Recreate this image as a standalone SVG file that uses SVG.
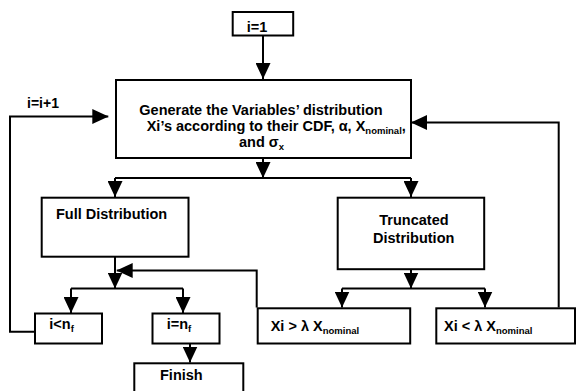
<svg xmlns="http://www.w3.org/2000/svg" width="576" height="391" viewBox="0 0 576 391">
<style>
.box{fill:#fff;stroke:#000;stroke-width:2}
.ln{fill:none;stroke:#000;stroke-width:2}
.ar{fill:none;stroke:#000;stroke-width:2;marker-end:url(#ah)}
text{font-family:"Liberation Sans",Arial,sans-serif;font-weight:bold;font-size:14.5px;fill:#000}
.sub{font-size:9.5px}
</style>
<defs>
<marker id="ah" viewBox="0 0 16 15" refX="16" refY="7.5" markerWidth="16" markerHeight="15" markerUnits="userSpaceOnUse" orient="auto">
<path d="M0,0 L16,7.5 L0,15 z" fill="#000"/>
</marker>
</defs>
<rect width="576" height="391" fill="#fff"/>
<g id="connectors">
<path class="ar" d="M263,36 L263,79"/>
<path class="ar" d="M263,159 L263,178"/>
<path class="ln" d="M115,178 L411,178"/>
<path class="ar" d="M115,178 L115,197"/>
<path class="ar" d="M411,178 L411,197"/>
<path class="ar" d="M115,257 L115,288.5"/>
<path class="ar" d="M256.7,307.5 L256.7,270.5 L116.7,270.5"/>
<path class="ln" d="M71,288.5 L183,288.5"/>
<path class="ar" d="M71,288.5 L71,313"/>
<path class="ar" d="M183,288.5 L183,313"/>
<path class="ar" d="M190,344 L190,362.5"/>
<path class="ar" d="M35,331.7 L10,331.7 L10,116.5 L108.3,116.5"/>
<path class="ar" d="M411,270 L411,288.5"/>
<path class="ln" d="M342,288.5 L485,288.5"/>
<path class="ar" d="M342,288.5 L342,307.5"/>
<path class="ar" d="M485,288.5 L485,307.5"/>
<path class="ar" d="M558.7,307.5 L558.7,122.5 L411,122.5"/>
</g>
<g id="n-start">
<rect class="box" x="232.7" y="12" width="60.5" height="23.5"/>
<text x="246.7" y="32">i=1</text>
</g>
<g id="n-generate">
<rect class="box" x="116" y="80" width="295" height="78"/>
<text x="139.3" y="115">Generate the Variables’ distribution</text>
<text x="146.7" y="130.7">Xi’s according to their CDF, α, X<tspan class="sub" dy="3">nominal</tspan><tspan dy="-3">,</tspan></text>
<text x="239" y="147.3">and σ<tspan class="sub" dy="3">x</tspan></text>
</g>
<g id="n-label-incr">
<text x="27" y="108" style="font-size:14px">i=i+1</text>
</g>
<g id="n-full">
<rect class="box" x="41.7" y="197.7" width="146.8" height="59"/>
<text x="56" y="219.3">Full Distribution</text>
</g>
<g id="n-trunc">
<rect class="box" x="337.7" y="197.7" width="146.5" height="71.5"/>
<text x="379.3" y="225">Truncated</text>
<text x="373" y="242.7">Distribution</text>
</g>
<g id="n-less">
<rect class="box" x="35" y="313.5" width="67" height="30"/>
<text x="49.3" y="328.5">i&lt;n<tspan class="sub" dy="3">f</tspan></text>
</g>
<g id="n-equal">
<rect class="box" x="152.5" y="313.5" width="67" height="30"/>
<text x="166.7" y="328.5">i=n<tspan class="sub" dy="3">f</tspan></text>
</g>
<g id="n-finish">
<rect class="box" x="134.3" y="363.3" width="109" height="40"/>
<text x="160" y="379.5">Finish</text>
</g>
<g id="n-greater-x">
<rect class="box" x="257.7" y="308.3" width="152.5" height="35.2"/>
<text x="270.7" y="331">Xi &gt; λ X<tspan class="sub" dy="3">nominal</tspan></text>
</g>
<g id="n-less-x">
<rect class="box" x="436.3" y="308.3" width="138.7" height="35.2"/>
<text x="444" y="330.5">Xi &lt; λ X<tspan class="sub" dy="3">nominal</tspan></text>
</g>
</svg>
